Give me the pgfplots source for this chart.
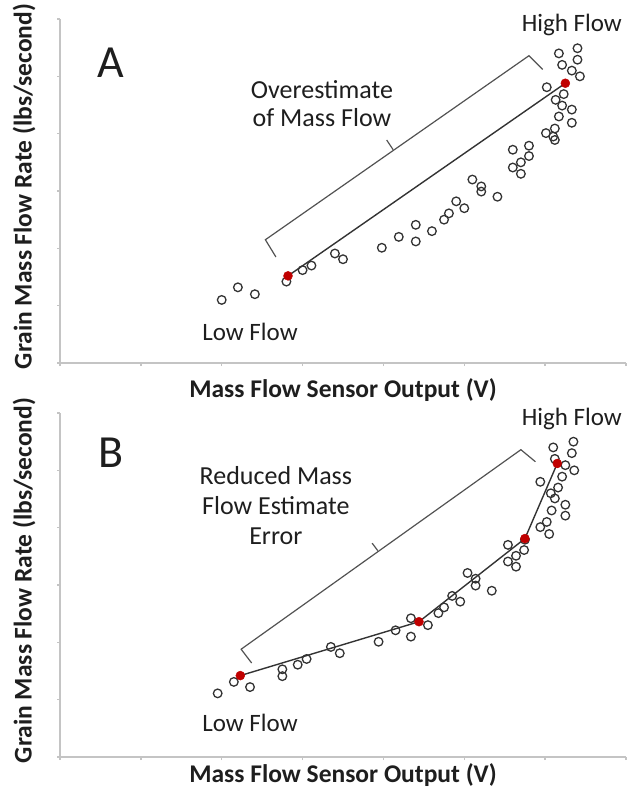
\documentclass[border=0pt]{standalone}
\usepackage{fontspec}
\setmainfont{Carlito}
\usepackage{pgfplots}
\pgfplotsset{compat=1.18}
\definecolor{cAx}{HTML}{C4C4C4}
\definecolor{cPt}{HTML}{333333}
\definecolor{cRed}{HTML}{C00000}
\definecolor{cInk}{HTML}{1E1E1E}

\pgfplotsset{
  flowpanel/.style={
    scale only axis, width=566pt, height=344pt,
    xmin=0, xmax=7, ymin=0, ymax=6, clip=false,
    axis x line*=bottom, axis y line*=left,
    axis line style={draw=cAx, line width=1.4pt, -},
    xtick={0,...,7}, ytick={0,...,6},
    xticklabels={}, yticklabels={},
    tick align=outside, major tick length=3pt,
    tick style={draw=cAx, line width=1.4pt},
    every axis y label/.style={at={(rel axis cs:-0.0636,0.513)}, rotate=90, anchor=center,
      font=\fontsize{25.5}{30}\selectfont\bfseries, text=cInk},
    every axis x label/.style={at={(rel axis cs:0.5,0)}, anchor=center, yshift=-27pt,
      font=\fontsize{25.5}{30}\selectfont\bfseries, text=cInk},
    ylabel={Grain Mass Flow Rate (lbs/second)},
    xlabel={Mass Flow Sensor Output (V)},
  },
  pts/.style={only marks, mark=o, mark size=4.3pt, mark options={draw=cPt, line width=1.3pt}},
  redpts/.style={only marks, mark=*, mark size=4.5pt, mark options={draw=cRed, fill=cRed}},
  fitline/.style={no marks, draw=cPt, line width=1.4pt},
  brace/.style={no marks, draw=cPt!85, line width=1.2pt},
}
\tikzset{note/.style={font=\fontsize{26}{28}\selectfont, text=cInk, align=center}}

\begin{document}
\begin{tikzpicture}
\useasboundingbox (0,0) rectangle (626pt,-789pt);

% panel A
\begin{axis}[flowpanel, at={(60pt,-363pt)}, anchor=south west]
  \addplot[brace] coordinates {(2.67,1.85) (2.54,2.15) (5.80,5.36) (5.97,5.12)};
  \addplot[brace] coordinates {(4.12,3.72) (4.04,3.89)};
  \addplot[fitline] coordinates {(2.82,1.52) (6.25,4.88)};
  \addplot[pts] coordinates {
    (2.00,1.10) (2.20,1.32) (2.41,1.20) (2.80,1.42) (3.00,1.62) (3.11,1.70)
    (3.40,1.91) (3.50,1.81) (3.98,2.01) (4.19,2.20) (4.40,2.41) (4.40,2.12)
    (4.60,2.30) (4.75,2.50) (4.81,2.61) (4.90,2.82) (5.00,2.70) (5.10,3.20)
    (5.21,3.08) (5.21,2.99) (5.41,2.90) (5.60,3.72) (5.80,3.79) (5.80,3.61)
    (5.70,3.50) (5.60,3.41) (5.70,3.30)
    (6.17,5.40) (6.40,5.49) (6.40,5.29) (6.21,5.20) (6.33,5.10) (6.43,5.00)
    (6.02,4.81) (6.23,4.69) (6.13,4.59) (6.21,4.49) (6.33,4.42) (6.17,4.30)
    (6.33,4.19) (6.12,4.09) (6.01,4.01) (6.10,3.95) (6.12,3.89)};
  \addplot[redpts] coordinates {(2.82,1.52) (6.25,4.88)};
  \node[font=\fontsize{46}{48}\selectfont, text=cInk] at (axis cs:0.63,5.23) {A};
  \node[note] at (axis cs:3.24,4.52) {Overestimate\\of Mass Flow};
  \node[note, font=\fontsize{25}{28}\selectfont] at (axis cs:6.33,5.90) {High Flow};
  \node[note, font=\fontsize{25}{28}\selectfont] at (axis cs:2.35,0.54) {Low Flow};
\end{axis}

% panel B
\begin{axis}[flowpanel, at={(60pt,-757pt)}, anchor=south west,
  every axis x label/.append style={yshift=9pt}]
  \addplot[brace] coordinates {(2.37,1.64) (2.24,1.88) (5.70,5.36) (5.88,5.15)};
  \addplot[brace] coordinates {(3.93,3.60) (3.86,3.73)};
  \addplot[fitline] coordinates {(2.23,1.42) (4.44,2.36) (5.75,3.81) (6.15,5.12)};
  \addplot[pts] coordinates {
    (1.95,1.11) (2.15,1.31) (2.35,1.22) (2.75,1.53) (2.75,1.41) (2.94,1.61)
    (3.05,1.71) (3.35,1.92) (3.46,1.81) (3.94,2.01) (4.15,2.21) (4.34,2.42)
    (4.34,2.10) (4.55,2.30) (4.68,2.51) (4.75,2.61) (4.85,2.81) (4.95,2.71)
    (5.04,3.21) (5.14,3.11) (5.14,2.99) (5.34,2.90) (5.54,3.70) (5.74,3.61)
    (5.64,3.51) (5.54,3.41) (5.64,3.32) (5.75,3.79)
    (6.10,5.40) (6.35,5.50) (6.33,5.30) (6.12,5.20) (6.25,5.09) (6.36,5.00)
    (5.94,4.80) (6.21,4.89) (6.16,4.70) (6.07,4.60) (6.12,4.51) (6.25,4.40)
    (6.08,4.30) (6.25,4.21) (6.02,4.10) (5.94,4.01) (6.05,3.89)};
  \addplot[redpts] coordinates {(2.23,1.42) (4.44,2.36) (5.75,3.81) (6.15,5.12)};
  \node[font=\fontsize{46}{48}\selectfont, text=cInk] at (axis cs:0.63,5.30) {B};
  \node[note, font=\fontsize{26}{30}\selectfont] at (axis cs:2.67,4.38) {Reduced Mass\\Flow Estimate\\Error};
  \node[note, font=\fontsize{25}{28}\selectfont] at (axis cs:6.33,5.90) {High Flow};
  \node[note, font=\fontsize{25}{28}\selectfont] at (axis cs:2.35,0.59) {Low Flow};
\end{axis}
\end{tikzpicture}
\end{document}
